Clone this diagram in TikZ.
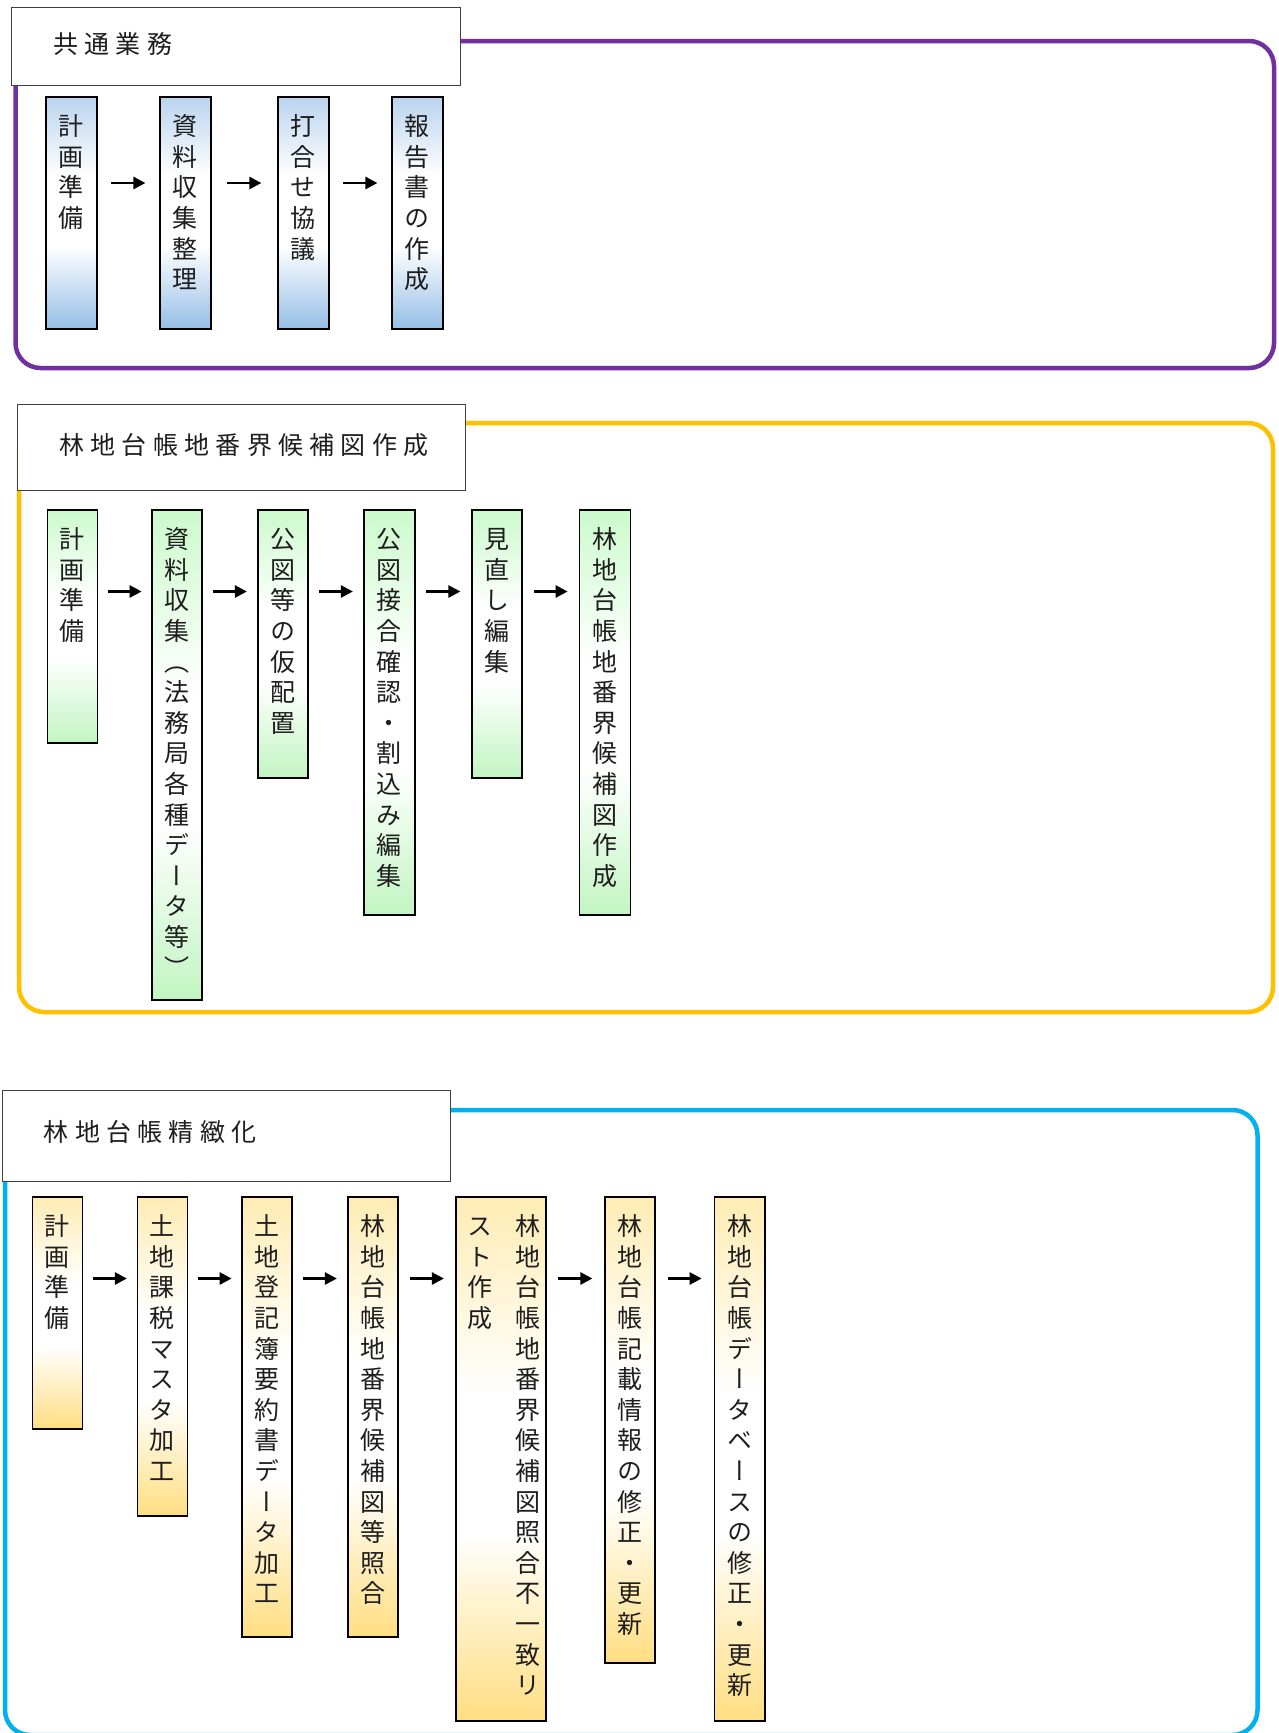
\documentclass[tikz,border=0pt]{standalone}
\usepackage{fontspec}
\usetikzlibrary{arrows.meta,calc}

\newfontfamily\jpfont{Noto Sans CJK JP}
\newfontfamily\tatefont{Noto Sans CJK JP}[RawFeature=+vert]

\definecolor{purpleline}{RGB}{112,48,160}
\definecolor{goldline}{RGB}{255,192,0}
\definecolor{skyline}{RGB}{0,176,240}
\definecolor{bluetop}{RGB}{186,211,238}
\definecolor{bluebot}{RGB}{150,190,230}
\definecolor{greentop}{RGB}{204,250,204}
\definecolor{greenbot}{RGB}{194,245,194}
\definecolor{goldtop}{RGB}{255,236,180}
\definecolor{goldbot}{RGB}{255,222,130}
\definecolor{ink}{RGB}{30,30,30}

% coloured top, white middle, coloured bottom
\pgfdeclareverticalshading{bluefade}{100bp}{color(0bp)=(bluebot); color(25bp)=(bluebot); color(43bp)=(white); color(58bp)=(white); color(75bp)=(bluetop); color(100bp)=(bluetop)}
\pgfdeclareverticalshading{greenfade}{100bp}{color(0bp)=(greenbot); color(25bp)=(greenbot); color(43bp)=(white); color(56bp)=(white); color(75bp)=(greentop); color(100bp)=(greentop)}
\pgfdeclareverticalshading{goldfade}{100bp}{color(0bp)=(goldbot); color(25bp)=(goldbot); color(43bp)=(white); color(56bp)=(white); color(75bp)=(goldtop); color(100bp)=(goldtop)}

\newcommand\tatestrut{\vrule height .88em depth .12em width 0pt}

\ExplSyntaxOn
% one character per line, top to bottom
\NewDocumentCommand \tate { m }
  {
    \vbox
      {
        \baselineskip = 30.6pt
        \lineskiplimit = -\maxdimen
        \tl_map_inline:nn {#1}
          { \hbox_to_wd:nn { 1em } { \hss \tatestrut ##1 \hss } }
      }
  }
% horizontal heading with extra tracking
\NewDocumentCommand \spaced { m }
  {
    \seq_clear:N \l_tmpa_seq
    \tl_map_inline:nn {#1} { \seq_put_right:Nn \l_tmpa_seq {##1} }
    \seq_use:Nn \l_tmpa_seq { \kern 6.3pt }
  }
\ExplSyntaxOff

\tikzset{
  frame/.style={line width=4.5pt, rounded corners=25pt},
  titlebox/.style={draw=black!75, line width=1pt, fill=white, anchor=north west, inner sep=0pt},
  titletext/.style={anchor=west, inner sep=0pt, text=ink, font=\jpfont\fontsize{25}{30}\selectfont},
  stepbox/.style={draw=black, line width=1.8pt, inner sep=0pt, anchor=north west, shade},
  bluestep/.style={stepbox, shading=bluefade},
  greenstep/.style={stepbox, shading=greenfade},
  goldstep/.style={stepbox, shading=goldfade},
  tatetext/.style={anchor=north, inner sep=0pt, text=ink, font=\tatefont\fontsize{25}{30.6}\selectfont},
  flowarrow/.style={line width=2.6pt, draw=black, -{Triangle[length=12pt,width=12pt]}}
}

% #1 name, #2 style, #3 left, #4 right, #5 top, #6 bottom
\newcommand\stepnode[6]{%
  \node[#2, minimum width={(#4-#3)*1pt}, minimum height={(#6-#5)*1pt}] (#1) at (#3,#5) {};}
% #1 box name, #2 horizontal offset, #3 text, #4 label suffix
\newcommand\tatelabel[4]{%
  \node[tatetext] (#1#4) at ($(#1.north)+(#2,17.5)$) {\tate{#3}};}
% arrow centred in the gap between two boxes on a given row
\newcommand\flow[3]{%
  \draw[flowarrow] ($(#1.east |- #3)!0.5!(#2.west |- #3)+(-17,0)$) -- ($(#1.east |- #3)!0.5!(#2.west |- #3)+(17,0)$);}

\begin{document}
\begin{tikzpicture}[x=1pt, y=-1pt]
\useasboundingbox (0,0) rectangle (1278,1733);
\clip (0,0) rectangle (1278,1733);

% ---------- 共通業務 ----------
\draw[frame, purpleline] (15.5,41) rectangle (1274,368);
\node[titlebox, minimum width=449pt, minimum height=78pt] (t1) at (11,7) {};
\node[titletext] (t1x) at (53,44) {\spaced{共通業務}};

\stepnode{a1}{bluestep}{45}{96}{96}{328}
\stepnode{a2}{bluestep}{159}{210}{96}{328}
\stepnode{a3}{bluestep}{277}{328}{96}{328}
\stepnode{a4}{bluestep}{391}{442}{96}{328}
\tatelabel{a1}{0}{計画準備}{t}
\tatelabel{a2}{0}{資料収集整理}{t}
\tatelabel{a3}{0}{打合せ協議}{t}
\tatelabel{a4}{0}{報告書の作成}{t}
\coordinate (row1) at (0,183);
\flow{a1}{a2}{row1}
\flow{a2}{a3}{row1}
\flow{a3}{a4}{row1}

% ---------- 林地台帳地番界候補図作成 ----------
\draw[frame, goldline] (19,423) rectangle (1273,1012);
\node[titlebox, minimum width=448pt, minimum height=86pt] (t2) at (17,404) {};
\node[titletext] (t2x) at (59,445) {\spaced{林地台帳地番界候補図作成}};

\stepnode{b1}{greenstep}{46.5}{96.5}{509}{742}
\stepnode{b2}{greenstep}{151}{201}{509}{999}
\stepnode{b3}{greenstep}{257}{307}{509}{777}
\stepnode{b4}{greenstep}{363}{414}{509}{914}
\stepnode{b5}{greenstep}{471}{521}{509}{777}
\stepnode{b6}{greenstep}{578.5}{629.5}{509}{914}
\tatelabel{b1}{0}{計画準備}{t}
\tatelabel{b2}{0}{資料収集（法務局各種データ等）}{t}
\tatelabel{b3}{0}{公図等の仮配置}{t}
\tatelabel{b4}{0}{公図接合確認・割込み編集}{t}
\tatelabel{b5}{0}{見直し編集}{t}
\tatelabel{b6}{0}{林地台帳地番界候補図作成}{t}
\coordinate (row2) at (0,591.5);
\flow{b1}{b2}{row2}
\flow{b2}{b3}{row2}
\flow{b3}{b4}{row2}
\flow{b4}{b5}{row2}
\flow{b5}{b6}{row2}

% ---------- 林地台帳精緻化 ----------
\draw[frame, skyline] (5,1110) rectangle (1257.5,1735);
\node[titlebox, minimum width=448pt, minimum height=91pt] (t3) at (2,1090) {};
\node[titletext] (t3x) at (43.5,1132) {\spaced{林地台帳精緻化}};

\stepnode{c1}{goldstep}{31.5}{81.5}{1196}{1428}
\stepnode{c2}{goldstep}{136.5}{186.5}{1196}{1515}
\stepnode{c3}{goldstep}{241}{291}{1196}{1636}
\stepnode{c4}{goldstep}{347}{397}{1196}{1636}
\stepnode{c5}{goldstep}{455}{545}{1196}{1720}
\stepnode{c6}{goldstep}{604}{654}{1196}{1662}
\stepnode{c7}{goldstep}{713.5}{764}{1196}{1720}
\tatelabel{c1}{0}{計画準備}{t}
\tatelabel{c2}{0}{土地課税マスタ加工}{t}
\tatelabel{c3}{0}{土地登記簿要約書データ加工}{t}
\tatelabel{c4}{0}{林地台帳地番界候補図等照合}{t}
\tatelabel{c5}{27}{林地台帳地番界候補図照合不一致リ}{r}
\tatelabel{c5}{-21}{スト作成}{l}
\tatelabel{c6}{0}{林地台帳記載情報の修正・更新}{t}
\tatelabel{c7}{0}{林地台帳データベースの修正・更新}{t}
\coordinate (row3) at (0,1278.5);
\flow{c1}{c2}{row3}
\flow{c2}{c3}{row3}
\flow{c3}{c4}{row3}
\flow{c4}{c5}{row3}
\flow{c5}{c6}{row3}
\flow{c6}{c7}{row3}
\end{tikzpicture}
\end{document}
